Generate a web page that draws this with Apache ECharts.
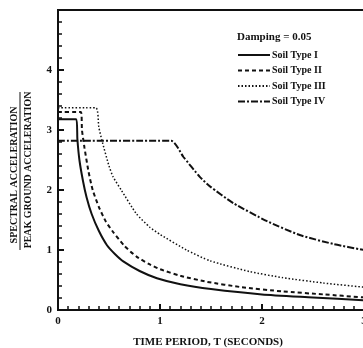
<!DOCTYPE html>
<html>
<head>
<meta charset="utf-8">
<script src="https://cdn.jsdelivr.net/npm/echarts@6/dist/echarts.min.js"></script>
<style>
  html, body { margin: 0; padding: 0; background: #fff; }
  #main { width: 363px; height: 348px; }
</style>
</head>
<body>
<div id="main"></div>
<script>
let myChart = echarts.init(document.getElementById("main"));

// [period T (s), Sa / PGA]
let soilOne = [
  [0, 3.18], [0.18, 3.18], [0.19, 2.85], [0.21, 2.5], [0.245, 2.15],
  [0.28, 1.88], [0.33, 1.6], [0.4, 1.32], [0.48, 1.08], [0.56, 0.93],
  [0.64, 0.81], [0.8, 0.65], [0.97, 0.53], [1.2, 0.43], [1.5, 0.35],
  [2.0, 0.26], [2.5, 0.21], [3.0, 0.16]
];
let soilTwo = [
  [0, 3.3], [0.225, 3.3], [0.235, 3.0], [0.26, 2.7], [0.3, 2.3],
  [0.34, 2.0], [0.4, 1.72], [0.47, 1.47], [0.54, 1.3], [0.65, 1.07],
  [0.77, 0.89], [0.9, 0.76], [1.0, 0.68], [1.2, 0.57], [1.46, 0.47],
  [1.8, 0.38], [2.2, 0.31], [2.6, 0.26], [3.0, 0.21]
];
let soilThree = [
  [0, 3.37], [0.37, 3.37], [0.4, 3.05], [0.43, 2.83], [0.5, 2.4],
  [0.54, 2.22], [0.62, 2.0], [0.77, 1.6], [0.9, 1.38], [1.0, 1.26],
  [1.26, 1.0], [1.49, 0.82], [1.88, 0.64], [2.2, 0.54], [2.6, 0.45],
  [3.0, 0.38]
];
let soilFour = [
  [0, 2.82], [1.11, 2.82], [1.23, 2.55], [1.39, 2.22], [1.49, 2.06],
  [1.72, 1.78], [2.05, 1.48], [2.37, 1.25], [2.7, 1.1], [3.0, 1.0]
];
let seriesNames = ["Soil Type I", "Soil Type II", "Soil Type III", "Soil Type IV"];
let xTicks = [0, 1, 2, 3];
let yTicks = [0, 1, 2, 3, 4];

let serif = "Liberation Serif";
let ink = "#111";

function makeLine(name, data, width, type) {
  return {
    type: "line",
    name: name,
    data: data,
    symbol: "none",
    smooth: 0.2,
    lineStyle: { color: ink, width: width, type: type },
    itemStyle: { color: ink },
  };
}

let majorTick = { color: ink, width: 2 };
let minorTickStyle = { color: ink, width: 1.5 };

let option = {
  animation: false,
  backgroundColor: "#fff",
  grid: {
    left: 58,
    right: -1,
    top: 10,
    bottom: 38,
    outerBoundsMode: "none",
    containLabel: false,
    show: true,
    borderColor: ink,
    borderWidth: 2,
  },
  title: {
    text: "Damping = 0.05",
    left: 232,
    top: 27,
    textStyle: { fontFamily: serif, fontSize: 11, fontWeight: "bold", color: ink },
  },
  legend: {
    orient: "vertical",
    left: 232,
    top: 45,
    itemWidth: 32,
    itemHeight: 10,
    itemGap: 5.5,
    data: seriesNames,
    itemStyle: { color: "transparent", borderWidth: 0 },
    textStyle: { fontFamily: serif, fontSize: 10, fontWeight: "bold", color: ink, padding: [0, 0, 0, -3] },
  },
  xAxis: {
    type: "value",
    min: 0,
    max: 3,
    interval: 1,
    name: "TIME PERIOD, T (SECONDS)",
    nameLocation: "middle",
    nameGap: 27,
    nameTextStyle: { fontFamily: serif, fontSize: 11, fontWeight: "bold", color: ink, padding: [0, 0, 0, -6] },
    axisLine: { show: true, onZero: false, lineStyle: { color: ink, width: 2 } },
    axisTick: { show: true, inside: true, length: 6, lineStyle: majorTick },
    minorTick: { show: true, splitNumber: 10, length: 4, lineStyle: minorTickStyle },
    splitLine: { show: false },
    axisLabel: {
      margin: 6,
      fontFamily: serif,
      fontSize: 11,
      fontWeight: "bold",
      color: ink,
      formatter: (v) => (xTicks.includes(v) ? String(v) : ""),
    },
  },
  yAxis: {
    type: "value",
    min: 0,
    max: 5,
    interval: 1,
    axisLine: { show: true, onZero: false, lineStyle: { color: ink, width: 2 } },
    axisTick: { show: true, inside: true, length: 6, lineStyle: majorTick },
    minorTick: { show: true, splitNumber: 5, length: 4, lineStyle: minorTickStyle },
    splitLine: { show: false },
    axisLabel: {
      margin: 6,
      fontFamily: serif,
      fontSize: 11,
      fontWeight: "bold",
      color: ink,
      formatter: (v) => (yTicks.includes(v) ? String(v) : ""),
    },
  },
  graphic: [
    {
      type: "text",
      x: 14,
      y: 175,
      rotation: Math.PI / 2,
      style: {
        text: "SPECTRAL ACCELERATION",
        font: "bold 10px 'Liberation Serif'",
        fill: ink,
        align: "center",
        verticalAlign: "middle",
      },
    },
    {
      type: "line",
      shape: { x1: 20, y1: 92, x2: 20, y2: 250 },
      style: { stroke: ink, lineWidth: 1 },
    },
    {
      type: "text",
      x: 28,
      y: 170,
      rotation: Math.PI / 2,
      scaleX: 0.9,
      style: {
        text: "PEAK GROUND ACCELERATION",
        font: "bold 11px 'Liberation Serif'",
        fill: ink,
        align: "center",
        verticalAlign: "middle",
      },
    },
  ],
  series: [
    makeLine(seriesNames[0], soilOne, 2, "solid"),
    makeLine(seriesNames[1], soilTwo, 2, [4, 3]),
    makeLine(seriesNames[2], soilThree, 1.5, [1.5, 2]),
    makeLine(seriesNames[3], soilFour, 2, [7, 2, 2, 2]),
  ],
};
myChart.setOption(option);
</script>
</body>
</html>
